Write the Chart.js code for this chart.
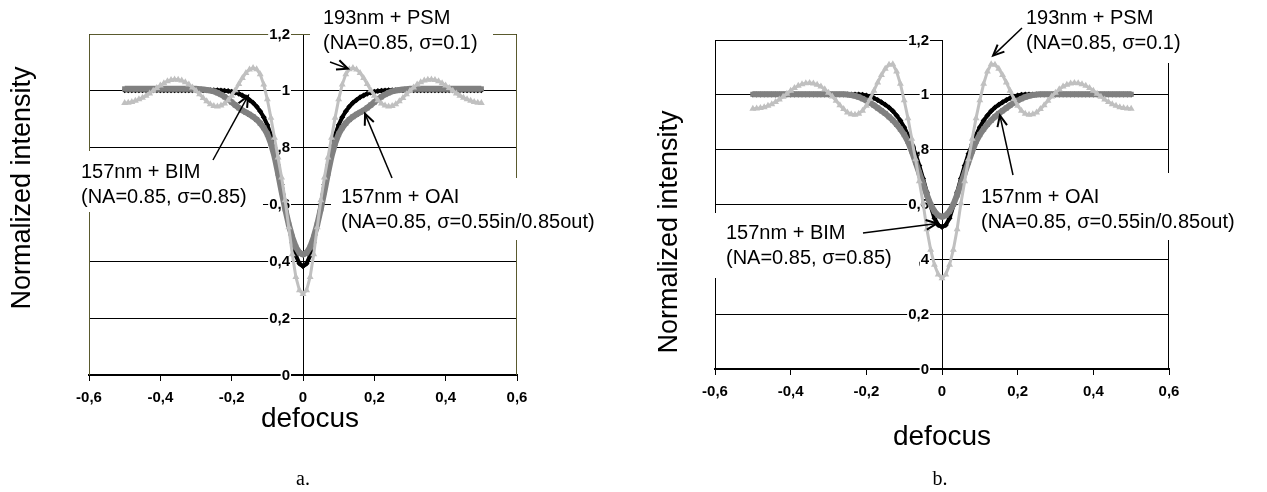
<!DOCTYPE html>
<html>
<head>
<meta charset="utf-8">
<script src="https://cdn.jsdelivr.net/npm/chart.js@4.4.1/dist/chart.umd.min.js"></script>
<style>
  html, body { margin: 0; padding: 0; background: #fff; }
  #wrap { position: relative; width: 1267px; height: 492px; overflow: hidden; }
  canvas { position: absolute; top: 0; }
</style>
</head>
<body>
<div id="wrap">
  <canvas id="chartA" width="633" height="492" style="left:0;width:633px;height:492px"></canvas>
  <canvas id="chartB" width="634" height="492" style="left:633px;width:634px;height:492px"></canvas>
</div>
<script>
// defocus positions shared by every curve
const defocus = [
  -0.5, -0.49, -0.48, -0.47, -0.46, -0.45, -0.44, -0.43, -0.42, -0.41,
  -0.4, -0.39, -0.38, -0.37, -0.36, -0.35, -0.34, -0.33, -0.32, -0.31,
  -0.3, -0.29, -0.28, -0.27, -0.26, -0.25, -0.24, -0.23, -0.22, -0.21,
  -0.2, -0.19, -0.18, -0.17, -0.16, -0.15, -0.14, -0.13, -0.12, -0.11,
  -0.1, -0.09, -0.08, -0.07, -0.06, -0.05, -0.04, -0.03, -0.02, -0.01,
  0,
  0.01, 0.02, 0.03, 0.04, 0.05, 0.06, 0.07, 0.08, 0.09, 0.1,
  0.11, 0.12, 0.13, 0.14, 0.15, 0.16, 0.17, 0.18, 0.19, 0.2,
  0.21, 0.22, 0.23, 0.24, 0.25, 0.26, 0.27, 0.28, 0.29, 0.3,
  0.31, 0.32, 0.33, 0.34, 0.35, 0.36, 0.37, 0.38, 0.39, 0.4,
  0.41, 0.42, 0.43, 0.44, 0.45, 0.46, 0.47, 0.48, 0.49, 0.5
];

// panel a
const bimA = [
  1.002, 1.002, 1.002, 1.002, 1.002, 1.002, 1.002, 1.002, 1.002, 1.002,
  1.002, 1.002, 1.002, 1.002, 1.002, 1.002, 1.002, 1.002, 1.002, 1.002,
  1.002, 1.002, 1.002, 1.002, 1.002, 1.002, 1.002, 1.001, 1.0, 0.999,
  0.997, 0.994, 0.99, 0.984, 0.977, 0.968, 0.958, 0.945, 0.928, 0.907,
  0.88, 0.845, 0.8, 0.738, 0.67, 0.6, 0.528, 0.465, 0.42, 0.392,
  0.383,
  0.392, 0.42, 0.465, 0.528, 0.6, 0.67, 0.738, 0.8, 0.845, 0.88,
  0.907, 0.928, 0.945, 0.958, 0.968, 0.977, 0.984, 0.99, 0.994, 0.997,
  0.999, 1.0, 1.001, 1.002, 1.002, 1.002, 1.002, 1.002, 1.002, 1.002,
  1.002, 1.002, 1.002, 1.002, 1.002, 1.002, 1.002, 1.002, 1.002, 1.002,
  1.002, 1.002, 1.002, 1.002, 1.002, 1.002, 1.002, 1.002, 1.002, 1.002
];
const oaiA = [
  1.007, 1.007, 1.007, 1.007, 1.007, 1.007, 1.007, 1.007, 1.007, 1.007,
  1.007, 1.007, 1.007, 1.007, 1.007, 1.007, 1.007, 1.007, 1.007, 1.007,
  1.007, 1.006, 1.005, 1.003, 1.001, 0.998, 0.993, 0.987, 0.979, 0.97,
  0.96, 0.95, 0.94, 0.931, 0.924, 0.917, 0.909, 0.899, 0.886, 0.87,
  0.848, 0.815, 0.77, 0.71, 0.645, 0.585, 0.53, 0.485, 0.45, 0.43,
  0.424,
  0.43, 0.45, 0.485, 0.53, 0.585, 0.645, 0.71, 0.77, 0.815, 0.848,
  0.87, 0.886, 0.899, 0.909, 0.917, 0.924, 0.931, 0.94, 0.95, 0.96,
  0.97, 0.979, 0.987, 0.993, 0.998, 1.001, 1.003, 1.005, 1.006, 1.007,
  1.007, 1.007, 1.007, 1.007, 1.007, 1.007, 1.007, 1.007, 1.007, 1.007,
  1.007, 1.007, 1.007, 1.007, 1.007, 1.007, 1.007, 1.007, 1.007, 1.007
];
const psmA = [
  0.957, 0.958, 0.961, 0.965, 0.97, 0.976, 0.983, 0.991, 1.0, 1.01,
  1.019, 1.027, 1.034, 1.038, 1.04, 1.039, 1.036, 1.03, 1.022, 1.012,
  1.0, 0.988, 0.975, 0.963, 0.953, 0.947, 0.945, 0.948, 0.955, 0.967,
  0.983, 1.002, 1.024, 1.045, 1.063, 1.075, 1.08, 1.076, 1.058, 1.022,
  0.97, 0.905, 0.835, 0.765, 0.695, 0.615, 0.52, 0.425, 0.345, 0.298,
  0.285,
  0.298, 0.345, 0.425, 0.52, 0.615, 0.695, 0.765, 0.835, 0.905, 0.97,
  1.022, 1.058, 1.076, 1.08, 1.075, 1.063, 1.045, 1.024, 1.002, 0.983,
  0.967, 0.955, 0.948, 0.945, 0.947, 0.953, 0.963, 0.975, 0.988, 1.0,
  1.012, 1.022, 1.03, 1.036, 1.039, 1.04, 1.038, 1.034, 1.027, 1.019,
  1.01, 1.0, 0.991, 0.983, 0.976, 0.97, 0.965, 0.961, 0.958, 0.957
];

// panel b
const bimB = [
  1.001, 1.001, 1.001, 1.001, 1.001, 1.001, 1.001, 1.001, 1.001, 1.001,
  1.001, 1.001, 1.001, 1.001, 1.001, 1.001, 1.001, 1.001, 1.001, 1.001,
  1.001, 1.001, 1.001, 1.001, 1.001, 1.001, 1.001, 1.001, 1.001, 1.0,
  0.998, 0.994, 0.988, 0.981, 0.973, 0.964, 0.954, 0.941, 0.925, 0.906,
  0.882, 0.853, 0.82, 0.785, 0.742, 0.695, 0.645, 0.595, 0.55, 0.525,
  0.518,
  0.525, 0.55, 0.595, 0.645, 0.695, 0.742, 0.785, 0.82, 0.853, 0.882,
  0.906, 0.925, 0.941, 0.954, 0.964, 0.973, 0.981, 0.988, 0.994, 0.998,
  1.0, 1.001, 1.001, 1.001, 1.001, 1.001, 1.001, 1.001, 1.001, 1.001,
  1.001, 1.001, 1.001, 1.001, 1.001, 1.001, 1.001, 1.001, 1.001, 1.001,
  1.001, 1.001, 1.001, 1.001, 1.001, 1.001, 1.001, 1.001, 1.001, 1.001
];
const oaiB = [
  1.002, 1.002, 1.002, 1.002, 1.002, 1.002, 1.002, 1.002, 1.002, 1.002,
  1.002, 1.002, 1.002, 1.002, 1.002, 1.002, 1.002, 1.002, 1.002, 1.002,
  1.002, 1.002, 1.002, 1.002, 1.002, 1.001, 0.999, 0.996, 0.992, 0.986,
  0.979, 0.971, 0.962, 0.952, 0.942, 0.932, 0.92, 0.907, 0.892, 0.875,
  0.855, 0.83, 0.795, 0.755, 0.715, 0.675, 0.635, 0.6, 0.575, 0.56,
  0.555,
  0.56, 0.575, 0.6, 0.635, 0.675, 0.715, 0.755, 0.795, 0.83, 0.855,
  0.875, 0.892, 0.907, 0.92, 0.932, 0.942, 0.952, 0.962, 0.971, 0.979,
  0.986, 0.992, 0.996, 0.999, 1.001, 1.002, 1.002, 1.002, 1.002, 1.002,
  1.002, 1.002, 1.002, 1.002, 1.002, 1.002, 1.002, 1.002, 1.002, 1.002,
  1.002, 1.002, 1.002, 1.002, 1.002, 1.002, 1.002, 1.002, 1.002, 1.002
];
const psmB = [
  0.949, 0.95, 0.952, 0.955, 0.96, 0.966, 0.974, 0.983, 0.993, 1.004,
  1.015, 1.025, 1.033, 1.039, 1.042, 1.043, 1.041, 1.037, 1.03, 1.02,
  1.008, 0.994, 0.978, 0.962, 0.948, 0.936, 0.929, 0.927, 0.931, 0.942,
  0.96, 0.985, 1.015, 1.045, 1.072, 1.095, 1.11, 1.112, 1.085, 1.04,
  0.98, 0.915, 0.84, 0.765, 0.685, 0.605, 0.51, 0.435, 0.38, 0.345,
  0.331,
  0.345, 0.38, 0.435, 0.51, 0.605, 0.685, 0.765, 0.84, 0.915, 0.98,
  1.04, 1.085, 1.112, 1.11, 1.095, 1.072, 1.045, 1.015, 0.985, 0.96,
  0.942, 0.931, 0.927, 0.929, 0.936, 0.948, 0.962, 0.978, 0.994, 1.008,
  1.02, 1.03, 1.037, 1.041, 1.043, 1.042, 1.039, 1.033, 1.025, 1.015,
  1.004, 0.993, 0.983, 0.974, 0.966, 0.96, 0.955, 0.952, 0.95, 0.949
];

const seriesNames = ['157nm + BIM', '157nm + OAI', '193nm + PSM'];
const xTickValues = [-0.6, -0.4, -0.2, 0, 0.2, 0.4, 0.6];
const xTickLabels = ['-0,6', '-0,4', '-0,2', '0', '0,2', '0,4', '0,6'];
const yTickValues = [0, 0.2, 0.4, 0.6, 0.8, 1, 1.2];
const yTickLabels = ['0', '0,2', '0,4', '0,6', '0,8', '1', '1,2'];

const SANS = '"Liberation Sans", Arial, sans-serif';
const TICK_FONT = 'bold 15px ' + SANS;

function points(ys) {
  return defocus.map((x, i) => ({ x: x, y: ys[i] }));
}

function arrow(ctx, x0, y0, x1, y1) {
  ctx.lineWidth = 1.5;
  ctx.beginPath();
  ctx.moveTo(x0, y0);
  ctx.lineTo(x1, y1);
  ctx.stroke();
  const ang = Math.atan2(y1 - y0, x1 - x0), L = 12, sp = 0.42;
  ctx.lineWidth = 2;
  ctx.beginPath();
  ctx.moveTo(x1 - L * Math.cos(ang - sp), y1 - L * Math.sin(ang - sp));
  ctx.lineTo(x1, y1);
  ctx.lineTo(x1 - L * Math.cos(ang + sp), y1 - L * Math.sin(ang + sp));
  ctx.stroke();
}

// frame, y labels with white backing, callout boxes, titles, arrows
const decor = {
  id: 'decor',
  beforeDatasetsDraw(chart, args, o) {
    const ctx = chart.ctx, a = chart.chartArea;
    const xs = chart.scales.x, ys = chart.scales.y;
    ctx.save();
    ctx.strokeStyle = o.frameColor;
    ctx.lineWidth = 1;
    ctx.beginPath();
    ctx.moveTo(a.left + 0.5, a.bottom);
    ctx.lineTo(a.left + 0.5, a.top + 0.5);
    ctx.lineTo(a.right - 0.5, a.top + 0.5);
    ctx.lineTo(a.right - 0.5, a.bottom);
    ctx.stroke();

    ctx.font = TICK_FONT;
    ctx.textAlign = 'right';
    ctx.textBaseline = 'middle';
    const lx = xs.getPixelForValue(0) - 13;
    yTickValues.forEach((v, i) => {
      const py = ys.getPixelForValue(v);
      const w = ctx.measureText(yTickLabels[i]).width;
      ctx.fillStyle = '#fff';
      ctx.fillRect(lx - w - 1, py - 8, w + 2, 16);
      ctx.fillStyle = '#000';
      ctx.fillText(yTickLabels[i], lx, py + 0.5);
    });

    ctx.fillStyle = '#fff';
    o.notes.forEach(n => ctx.fillRect(n.box[0], n.box[1], n.box[2], n.box[3]));
    ctx.restore();
  },
  afterDraw(chart, args, o) {
    const ctx = chart.ctx;
    const xs = chart.scales.x, ys = chart.scales.y;
    ctx.save();
    ctx.fillStyle = '#000';
    ctx.strokeStyle = '#000';
    ctx.font = '20px ' + SANS;
    ctx.textAlign = 'left';
    ctx.textBaseline = 'middle';
    o.notes.forEach(n => {
      n.lines.forEach((t, k) => ctx.fillText(t, n.x, n.y + k * 25));
      arrow(ctx, n.from[0], n.from[1], xs.getPixelForValue(n.to[0]), ys.getPixelForValue(n.to[1]));
    });

    ctx.font = '27px ' + SANS;
    ctx.textAlign = 'center';
    ctx.textBaseline = 'alphabetic';
    ctx.save();
    ctx.translate(o.yTitle[0], o.yTitle[1]);
    ctx.rotate(-Math.PI / 2);
    ctx.fillText('Normalized intensity', 0, 0);
    ctx.restore();

    ctx.font = '28px ' + SANS;
    ctx.fillText('defocus', o.xTitle[0], o.xTitle[1]);

    ctx.font = '20px "Liberation Serif", "Times New Roman", serif';
    ctx.textBaseline = 'middle';
    ctx.fillText(o.caption, o.capPos[0], o.capPos[1]);
    ctx.restore();
  }
};

function makeChart(id, bim, oai, psm, look) {
  return new Chart(document.getElementById(id), {
    type: 'line',
    data: {
      datasets: [
        { label: seriesNames[2], data: points(psm), order: 0,
          borderColor: '#c0c0c0', backgroundColor: '#c0c0c0', pointBackgroundColor: '#c0c0c0',
          borderWidth: 3, pointStyle: 'triangle', pointRadius: 4, pointBorderWidth: 0 },
        { label: seriesNames[1], data: points(oai), order: 1,
          borderColor: '#808080', backgroundColor: '#808080', pointBackgroundColor: '#808080',
          borderWidth: 6, pointStyle: 'rect', pointRadius: 3.6, pointBorderWidth: 0 },
        { label: seriesNames[0], data: points(bim), order: 2,
          borderColor: '#000', backgroundColor: '#000', pointBackgroundColor: '#000',
          borderWidth: 4, pointStyle: 'rectRot', pointRadius: 3, pointBorderWidth: 0 }
      ]
    },
    options: {
      responsive: false,
      animation: false,
      layout: { padding: look.pad },
      elements: { line: { tension: 0 } },
      plugins: {
        legend: { display: false },
        tooltip: { enabled: false },
        decor: look.decor
      },
      scales: {
        x: {
          type: 'linear', position: 'bottom', min: -0.6, max: 0.6,
          afterBuildTicks: s => { s.ticks = xTickValues.map(v => ({ value: v })); },
          afterFit: s => { s.height = look.xAxisHeight; },
          ticks: {
            callback: (v, i) => xTickLabels[i],
            font: { family: SANS, size: 15, weight: 'bold' },
            color: '#000', padding: 8, maxRotation: 0, autoSkip: false
          },
          grid: {
            color: c => (c.tick && Math.abs(c.tick.value) < 1e-9) ? '#000' : 'rgba(0,0,0,0)',
            tickColor: '#000', tickLength: 6, lineWidth: 1, drawOnChartArea: true
          },
          border: { display: true, color: '#000', width: 2 }
        },
        y: {
          type: 'linear', position: 'left', min: 0, max: 1.2,
          afterBuildTicks: s => { s.ticks = yTickValues.map(v => ({ value: v })); },
          afterFit: s => { s.width = 0; },
          ticks: { display: false },
          grid: { color: '#000', lineWidth: 1, drawTicks: false },
          border: { display: false }
        }
      }
    },
    plugins: [decor]
  });
}

makeChart('chartA', bimA, oaiA, psmA, {
  pad: { left: 89, top: 34, right: 116, bottom: 0 },
  xAxisHeight: 117,
  decor: {
    frameColor: '#5a5a2e',
    yTitle: [30, 188],
    xTitle: [310, 427],
    caption: 'a.',
    capPos: [303, 480],
    notes: [
      { lines: ['193nm + PSM', '(NA=0.85, σ=0.1)'], x: 323, y: 18,
        box: [310, 0, 183, 58], from: [330, 62], to: [0.126, 1.078] },
      { lines: ['157nm + BIM', '(NA=0.85, σ=0.85)'], x: 81, y: 172,
        box: [76, 151, 187, 61], from: [213, 160], to: [-0.154, 0.982] },
      { lines: ['157nm + OAI', '(NA=0.85, σ=0.55in/0.85out)'], x: 341, y: 197,
        box: [331, 178, 290, 62], from: [392, 178], to: [0.174, 0.919] }
    ]
  }
});

makeChart('chartB', bimB, oaiB, psmB, {
  pad: { left: 82, top: 40, right: 98, bottom: 0 },
  xAxisHeight: 123,
  decor: {
    frameColor: '#000',
    yTitle: [44, 232],
    xTitle: [309, 445],
    caption: 'b.',
    capPos: [307, 480],
    notes: [
      { lines: ['193nm + PSM', '(NA=0.85, σ=0.1)'], x: 393, y: 18,
        box: [310, 0, 265, 63], from: [389, 28], to: [0.135, 1.143] },
      { lines: ['157nm + OAI', '(NA=0.85, σ=0.55in/0.85out)'], x: 348, y: 197,
        box: [337, 173, 290, 67], from: [380, 175], to: [0.153, 0.925] },
      { lines: ['157nm + BIM', '(NA=0.85, σ=0.85)'], x: 93, y: 233,
        box: [79, 213, 207, 65], from: [230, 233], to: [-0.013, 0.531] }
    ]
  }
});
</script>
</body>
</html>
